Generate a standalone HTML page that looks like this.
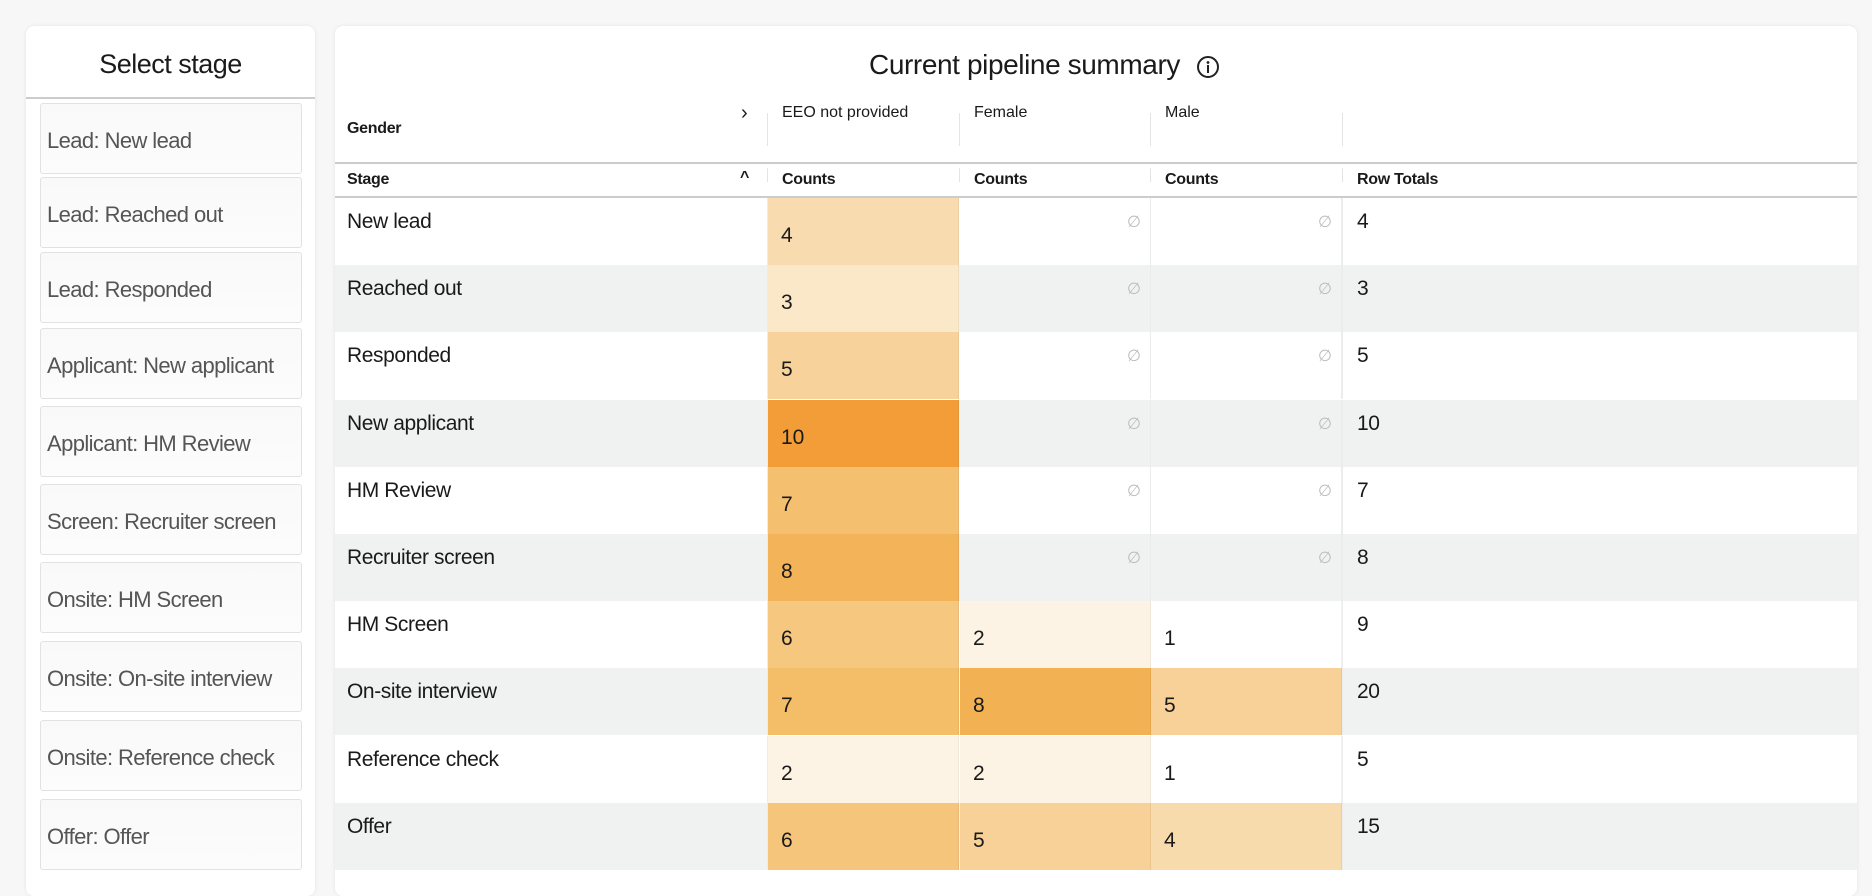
<!DOCTYPE html>
<html><head><meta charset="utf-8"><style>
*{margin:0;padding:0;box-sizing:border-box}
body{width:1872px;height:882px;background:#f7f7f7;position:relative;overflow:hidden;font-family:"Liberation Sans",sans-serif;color:#1a1a1a}
.abs{position:absolute}
#left{left:26px;top:26px;width:289px;height:870px;background:#fff;border-radius:8px;box-shadow:0 0 4px rgba(0,0,0,.08)}
#left h2{position:absolute;left:0;top:0;width:289px;height:73px;line-height:76px;text-align:center;font-weight:normal;font-size:27px;letter-spacing:-0.5px;border-bottom:2px solid #ccc}
.btn{position:absolute;left:14px;width:262px;height:71px;border:1px solid #e2e2e2;border-radius:3px;background:linear-gradient(#f9f9f9,#fcfcfc);font-size:22px;color:#555;padding:24px 0 0 6px;letter-spacing:-0.6px;white-space:nowrap;overflow:hidden}
#right{left:335px;top:26px;width:1522px;height:870px;background:#fff;border-radius:8px;box-shadow:0 0 4px rgba(0,0,0,.08);overflow:hidden}
.t{position:absolute;white-space:nowrap}
.row{position:absolute;left:0;width:1522px;height:67px}
.cell{position:absolute;top:0;height:67px;font-size:21px;padding:26px 0 0 13px}
.lab{position:absolute;font-size:21px;letter-spacing:-0.4px}
.nul{position:absolute;font-size:16px;color:#bbb}
.hd{font-size:16px;font-weight:bold;letter-spacing:-0.3px}
.vs{position:absolute;width:1px;background:#e4e4e4}
</style></head><body>
<div id="left" class="abs"><h2>Select stage</h2>
<div class="btn" style="top:77px">Lead: New lead</div>
<div class="btn" style="top:151px">Lead: Reached out</div>
<div class="btn" style="top:226px">Lead: Responded</div>
<div class="btn" style="top:302px">Applicant: New applicant</div>
<div class="btn" style="top:380px">Applicant: HM Review</div>
<div class="btn" style="top:458px">Screen: Recruiter screen</div>
<div class="btn" style="top:536px">Onsite: HM Screen</div>
<div class="btn" style="top:615px">Onsite: On-site interview</div>
<div class="btn" style="top:694px">Onsite: Reference check</div>
<div class="btn" style="top:773px">Offer: Offer</div>
</div>
<div id="right" class="abs">
<div class="t" style="left:534px;top:23px;font-size:28px;letter-spacing:-0.4px">Current pipeline summary</div>
<svg class="abs" style="left:861px;top:29px" width="24" height="24"><circle cx="12" cy="12" r="10" fill="none" stroke="#222" stroke-width="2"/><circle cx="12" cy="7.5" r="1.4" fill="#222"/><rect x="11" y="10" width="2" height="8" fill="#222"/></svg>
<div class="t hd" style="left:12px;top:94px">Gender</div>
<div class="t" style="left:406px;top:76px;font-size:20px">›</div>
<div class="t" style="left:447px;top:78px;font-size:16px">EEO not provided</div>
<div class="t" style="left:639px;top:78px;font-size:16px">Female</div>
<div class="t" style="left:830px;top:78px;font-size:16px">Male</div>
<div class="vs" style="left:432px;top:87px;height:33px"></div>
<div class="vs" style="left:624px;top:87px;height:33px"></div>
<div class="vs" style="left:815px;top:87px;height:33px"></div>
<div class="vs" style="left:1007px;top:87px;height:33px"></div>
<div class="abs" style="left:0;top:136px;width:1522px;height:2px;background:#ccc"></div>
<div class="t hd" style="left:12px;top:145px">Stage</div>
<div class="t" style="left:405px;top:143px;font-size:16px;font-weight:bold">^</div>
<div class="t hd" style="left:447px;top:145px">Counts</div>
<div class="t hd" style="left:639px;top:145px">Counts</div>
<div class="t hd" style="left:830px;top:145px">Counts</div>
<div class="t hd" style="left:1022px;top:145px">Row Totals</div>
<div class="vs" style="left:432px;top:142px;height:14px"></div>
<div class="vs" style="left:624px;top:142px;height:14px"></div>
<div class="vs" style="left:815px;top:142px;height:14px"></div>
<div class="vs" style="left:1007px;top:142px;height:14px"></div>
<div class="abs" style="left:0;top:170px;width:1522px;height:2px;background:#ccc"></div>
<div id="rows"></div>
</div>
<script>
var d=[["New lead",[4,"#f8dcb0"],null,null,4],["Reached out",[3,"#fbe8c9"],null,null,3],["Responded",[5,"#f7d39b"],null,null,5],["New applicant",[10,"#f29d38"],null,null,10],["HM Review",[7,"#f4bf6f"],null,null,7],["Recruiter screen",[8,"#f3b358"],null,null,8],["HM Screen",[6,"#f5c77f"],[2,"#fdf3e5"],[1,"#fff"],9],["On-site interview",[7,"#f4bd67"],[8,"#f2b152"],[5,"#f7d197"],20],["Reference check",[2,"#fdf3e5"],[2,"#fdf3e5"],[1,"#fff"],5],["Offer",[6,"#f5c57c"],[5,"#f7d197"],[4,"#f8dbad"],15]];
var h="";var cx=[433,625,816];
d.forEach(function(r,i){var top=172+i*67.2;var bg=i%2?"#f0f1f1":"#fff";
h+='<div class="row" style="top:'+top+'px;background:'+bg+'">';
h+='<div class="lab" style="left:12px;top:12px">'+r[0]+'</div>';
for(var j=0;j<3;j++){var c=r[1+j];
if(c){h+='<div class="cell" style="left:'+cx[j]+'px;width:191px;background:'+c[1]+';border-right:1px solid rgba(0,0,0,.05)">'+c[0]+'</div>';}
else{h+='<div class="nul" style="left:'+(cx[j]+167)+'px;top:14px">∅</div><div class="vs" style="left:'+(cx[j]+190)+'px;top:0;height:67px;background:#ececec"></div>';}}
h+='<div class="lab" style="left:1022px;top:12px">'+r[4]+'</div>';
h+='<div class="vs" style="left:1007px;top:0;height:67px;background:#ececec"></div><div class="vs" style="left:432px;top:0;height:67px;background:#ececec"></div></div>';});
document.getElementById("rows").innerHTML=h;
</script>
</body></html>
